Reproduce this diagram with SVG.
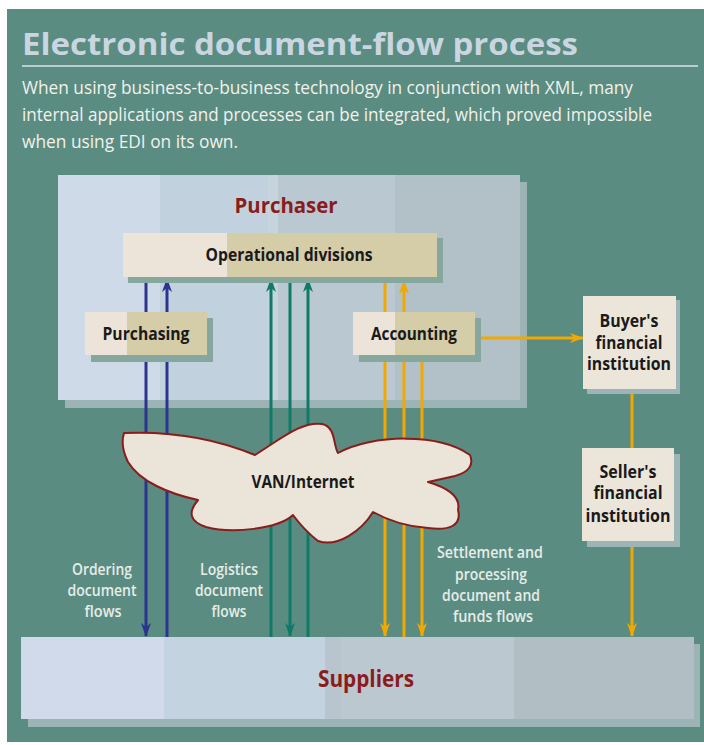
<svg xmlns="http://www.w3.org/2000/svg" width="704" height="745" viewBox="0 0 704 745">
  <style>
    .hdr { font-family: "Open Sans", "Liberation Sans", sans-serif; font-weight: bold; fill: #c9d6e0; }
    .body { font-family: "Open Sans", "Liberation Sans", sans-serif; font-size: 18px; fill: #f2f1ea; }
    .big { font-family: "Open Sans", "Liberation Sans", sans-serif; font-weight: bold; fill: #8a1c1c; text-anchor: middle; }
    .lbl { font-family: "Open Sans", "Liberation Sans", sans-serif; font-weight: bold; font-size: 17px; fill: #1a1a1a; text-anchor: middle; }
    .flow { font-family: "Open Sans", "Liberation Sans", sans-serif; font-weight: 600; font-size: 16px; fill: #e6ece8; text-anchor: middle; }
    .shadow { fill: #86a79d; }
    .pshadow { fill: #9db4b6; }
    .boxL { fill: #ece4d8; }
    .boxR { fill: #d5cca8; }
    .fin { fill: #ece6da; }
    .blue { stroke: #2d3490; stroke-width: 3; fill: none; }
    .green { stroke: #0e7a67; stroke-width: 3; fill: none; }
    .orange { stroke: #f2a800; stroke-width: 3; fill: none; }
  </style>
  <defs>
    <marker id="ahBlue" viewBox="0 0 14 10" refX="13" refY="5" markerWidth="14" markerHeight="10" markerUnits="userSpaceOnUse" orient="auto">
      <path d="M0,0 L14,5 L0,10 L4,5 Z" fill="#2d3490"/>
    </marker>
    <marker id="ahGreen" viewBox="0 0 14 10" refX="13" refY="5" markerWidth="14" markerHeight="10" markerUnits="userSpaceOnUse" orient="auto">
      <path d="M0,0 L14,5 L0,10 L4,5 Z" fill="#0e7a67"/>
    </marker>
    <marker id="ahOrange" viewBox="0 0 14 10" refX="13" refY="5" markerWidth="14" markerHeight="10" markerUnits="userSpaceOnUse" orient="auto">
      <path d="M0,0 L14,5 L0,10 L4,5 Z" fill="#f2a800"/>
    </marker>
  </defs>

  <!-- page background -->
  <rect x="0" y="0" width="704" height="745" fill="#ffffff"/>
  <rect x="7" y="9" width="697" height="733" fill="#5a8c82"/>

  <!-- heading -->
  <g id="heading">
    <text class="hdr" x="22" y="55" font-size="31" textLength="556" lengthAdjust="spacingAndGlyphs">Electronic document-flow process</text>
    <line x1="22" y1="66" x2="698" y2="66" stroke="#b9ccd2" stroke-width="2"/>
    <text class="body" x="22" y="94" textLength="611" lengthAdjust="spacingAndGlyphs">When using business-to-business technology in conjunction with XML, many</text>
    <text class="body" x="22" y="121" textLength="630" lengthAdjust="spacingAndGlyphs">internal applications and processes can be integrated, which proved impossible</text>
    <text class="body" x="22" y="148" textLength="216" lengthAdjust="spacingAndGlyphs">when using EDI on its own.</text>
  </g>

  <!-- purchaser panel -->
  <g id="purchaser">
    <rect class="pshadow" x="65" y="182" width="462" height="226"/>
    <rect x="58" y="175" width="102" height="225" fill="#cfdae8"/>
    <rect x="160" y="175" width="108" height="225" fill="#c1d2de"/>
    <rect x="268" y="175" width="10" height="225" fill="#c6d4dd"/>
    <rect x="278" y="175" width="117" height="225" fill="#bac8d1"/>
    <rect x="395" y="175" width="125" height="225" fill="#b2c0c7"/>
    <text class="big" x="286" y="213" font-size="22" textLength="103" lengthAdjust="spacingAndGlyphs">Purchaser</text>
  </g>

  <!-- suppliers panel -->
  <g id="suppliers">
    <rect class="pshadow" x="28" y="644" width="672" height="83"/>
    <rect x="21" y="637" width="143" height="82" fill="#d0daea"/>
    <rect x="164" y="637" width="161" height="82" fill="#c3d3df"/>
    <rect x="325" y="637" width="16" height="82" fill="#b8c5ce"/>
    <rect x="341" y="637" width="173" height="82" fill="#bcc8d0"/>
    <rect x="514" y="637" width="180" height="82" fill="#b1bec4"/>
    <text class="big" x="366" y="687" font-size="24" textLength="96" lengthAdjust="spacingAndGlyphs">Suppliers</text>
  </g>

  <!-- document and funds flows -->
  <g id="connectors">
    <line class="blue" x1="146" y1="277" x2="146" y2="636" marker-end="url(#ahBlue)"/>
    <line class="blue" x1="167" y1="637" x2="167" y2="279" marker-end="url(#ahBlue)"/>
    <line class="green" x1="271" y1="637" x2="271" y2="279" marker-end="url(#ahGreen)"/>
    <line class="green" x1="290" y1="277" x2="290" y2="636" marker-end="url(#ahGreen)"/>
    <line class="green" x1="308" y1="637" x2="308" y2="279" marker-end="url(#ahGreen)"/>
    <line class="orange" x1="385" y1="277" x2="385" y2="636" marker-end="url(#ahOrange)"/>
    <line class="orange" x1="404" y1="637" x2="404" y2="281" marker-end="url(#ahOrange)"/>
    <line class="orange" x1="422" y1="355" x2="422" y2="636" marker-end="url(#ahOrange)"/>
    <line class="orange" x1="475" y1="338" x2="583" y2="338" marker-end="url(#ahOrange)"/>
    <line class="orange" x1="632" y1="389" x2="632" y2="636" marker-end="url(#ahOrange)"/>
  </g>

  <!-- network cloud -->
  <g id="van-internet">
    <path d="M124,433 Q195,430 255,455 C282,438 302,421 322,424 C336,427 333,445 338,453 C372,434 440,433 470,455 Q476,470 455,476 L428,482 Q462,492 458,510 C462,525 450,531 428,528 Q398,526 373,512 C362,530 338,548 318,541 Q304,530 293,515 C278,529 232,534 206,527 Q182,519 198,500 C170,494 140,482 128,462 Q120,446 124,433 Z" fill="#ebe4d8" stroke="#8a1c1c" stroke-width="2" stroke-linejoin="round"/>
    <text class="lbl" x="303" y="488" textLength="103" lengthAdjust="spacingAndGlyphs">VAN/Internet</text>
  </g>

  <g id="operational-divisions">
    <rect class="shadow" x="128" y="238" width="315" height="45"/>
    <rect class="boxR" x="123" y="233" width="314" height="44"/>
    <rect class="boxL" x="123" y="233" width="104" height="44"/>
    <text class="lbl" x="289" y="261" textLength="167" lengthAdjust="spacingAndGlyphs">Operational divisions</text>
  </g>

  <g id="purchasing">
    <rect class="shadow" x="91" y="318" width="122" height="44"/>
    <rect class="boxR" x="85" y="312" width="122" height="43"/>
    <rect class="boxL" x="85" y="312" width="42" height="43"/>
    <text class="lbl" x="146" y="340" textLength="87" lengthAdjust="spacingAndGlyphs">Purchasing</text>
  </g>

  <g id="accounting">
    <rect class="shadow" x="359" y="318" width="122" height="44"/>
    <rect class="boxR" x="353" y="312" width="122" height="43"/>
    <rect class="boxL" x="353" y="312" width="42" height="43"/>
    <text class="lbl" x="414" y="340" textLength="86" lengthAdjust="spacingAndGlyphs">Accounting</text>
  </g>

  <g id="buyers-financial-institution">
    <rect class="pshadow" x="587" y="300" width="93" height="94"/>
    <rect class="fin" x="583" y="296" width="93" height="93"/>
    <text class="lbl" x="629" y="327" textLength="59" lengthAdjust="spacingAndGlyphs">Buyer's</text>
    <text class="lbl" x="629" y="349" textLength="67" lengthAdjust="spacingAndGlyphs">financial</text>
    <text class="lbl" x="629" y="370" textLength="84" lengthAdjust="spacingAndGlyphs">institution</text>
  </g>

  <g id="sellers-financial-institution">
    <rect class="pshadow" x="587" y="454" width="93" height="93"/>
    <rect class="fin" x="582" y="448" width="92" height="93"/>
    <text class="lbl" x="628" y="478" textLength="57" lengthAdjust="spacingAndGlyphs">Seller's</text>
    <text class="lbl" x="628" y="499" textLength="69" lengthAdjust="spacingAndGlyphs">financial</text>
    <text class="lbl" x="628" y="522" textLength="85" lengthAdjust="spacingAndGlyphs">institution</text>
  </g>

  <!-- flow captions -->
  <g id="flow-labels">
    <text class="flow" x="102" y="575" textLength="60" lengthAdjust="spacingAndGlyphs">Ordering</text>
    <text class="flow" x="102" y="596" textLength="69" lengthAdjust="spacingAndGlyphs">document</text>
    <text class="flow" x="103" y="617" textLength="37" lengthAdjust="spacingAndGlyphs">flows</text>
    <text class="flow" x="229" y="575" textLength="58" lengthAdjust="spacingAndGlyphs">Logistics</text>
    <text class="flow" x="229" y="596" textLength="68" lengthAdjust="spacingAndGlyphs">document</text>
    <text class="flow" x="229" y="617" textLength="35" lengthAdjust="spacingAndGlyphs">flows</text>
    <text class="flow" x="490" y="558" textLength="106" lengthAdjust="spacingAndGlyphs">Settlement and</text>
    <text class="flow" x="491" y="580" textLength="72" lengthAdjust="spacingAndGlyphs">processing</text>
    <text class="flow" x="491" y="601" textLength="98" lengthAdjust="spacingAndGlyphs">document and</text>
    <text class="flow" x="493" y="622" textLength="80" lengthAdjust="spacingAndGlyphs">funds flows</text>
  </g>
</svg>
